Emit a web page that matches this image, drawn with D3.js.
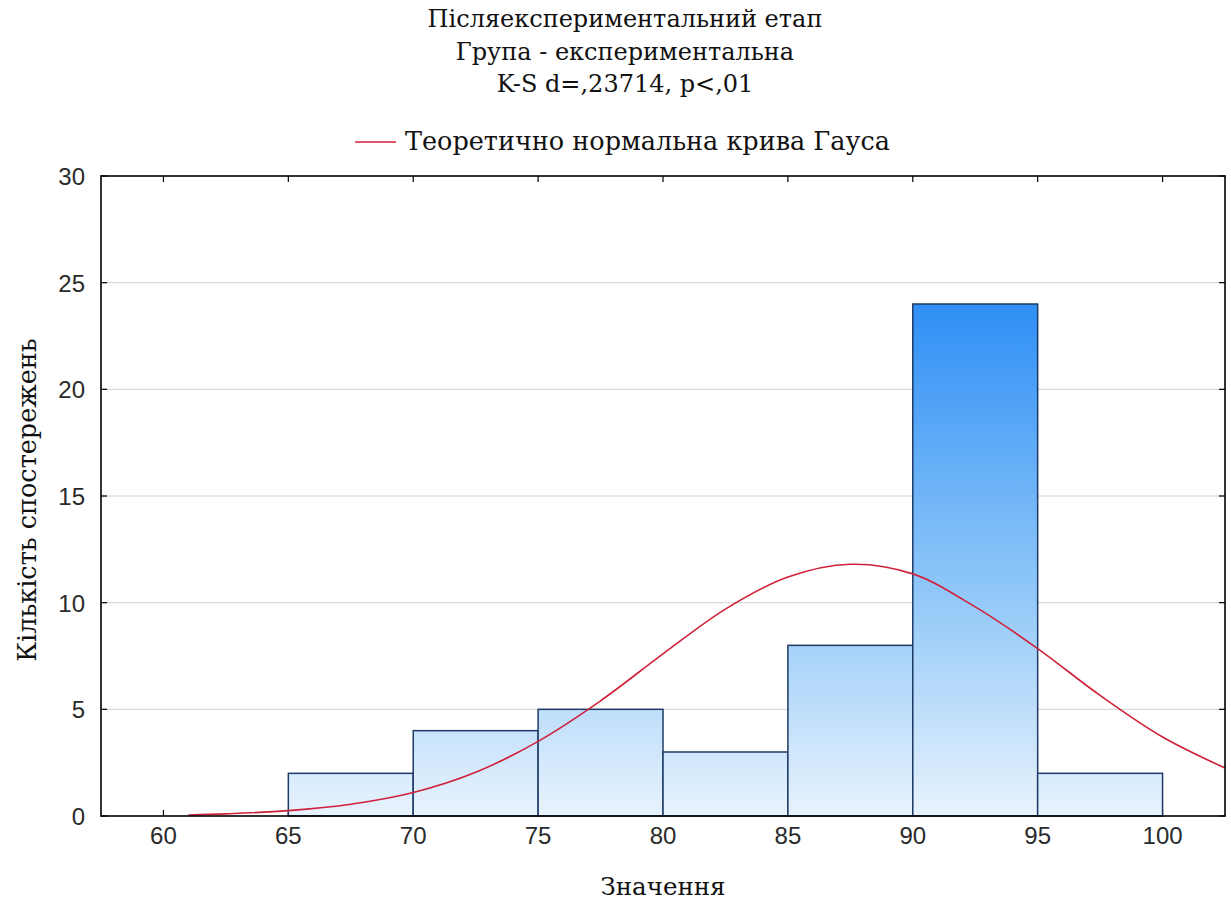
<!DOCTYPE html>
<html>
<head>
<meta charset="utf-8">
<script src="https://cdn.jsdelivr.net/npm/d3@7"></script>
<style>
  html, body { margin: 0; padding: 0; background: #fff; }
  svg { display: block; }
  .serif { font-family: "DejaVu Serif", "Liberation Serif", serif; }
  .sans { font-family: "Liberation Sans", Arial, sans-serif; }
</style>
</head>
<body>
<svg id="chart" width="1231" height="906"></svg>
<script>
// ---- Data ----
const titleLines = ["Післяекспериментальний етап", "Група - експериментальна", "K-S d=,23714, p<,01"];
const legendLabel = "Теоретично нормальна крива Гауса";
const xLabel = "Значення";
const yLabel = "Кількість спостережень";

const binStarts = [65, 70, 75, 80, 85, 90, 95];
const binEnds   = [70, 75, 80, 85, 90, 95, 100];
const binCounts = [2, 4, 5, 3, 8, 24, 2];

const xTicks = [60, 65, 70, 75, 80, 85, 90, 95, 100];
const yTicks = [0, 5, 10, 15, 20, 25, 30];

// Normal curve points
const curveX = [61, 62.5, 65, 67.5, 70, 72.5, 75, 77.5, 80, 82.5, 85, 87.5, 90, 92.5, 95, 97.5, 100, 102.5];
const curveY = [0.05, 0.1, 0.25, 0.55, 1.1, 2.05, 3.5, 5.4, 7.6, 9.7, 11.2, 11.8, 11.35, 9.8, 7.85, 5.65, 3.7, 2.25];

// ---- Layout ----
const svg = d3.select("#chart");
const L = 101, R = 1225, T = 176, B = 816;

const x = d3.scaleLinear().domain([57.5, 102.5]).range([L, R]);
const y = d3.scaleLinear().domain([0, 30]).range([B, T]);

// gradient
const defs = svg.append("defs");
const grad = defs.append("linearGradient")
  .attr("id", "barGrad")
  .attr("gradientUnits", "userSpaceOnUse")
  .attr("x1", 0).attr("x2", 0)
  .attr("y1", y(24)).attr("y2", y(0));
grad.append("stop").attr("offset", "0%").attr("stop-color", "#2f8ff5");
grad.append("stop").attr("offset", "55%").attr("stop-color", "#8ec6f8");
grad.append("stop").attr("offset", "100%").attr("stop-color", "#e8f3fd");

const clip = defs.append("clipPath").attr("id", "plotClip");
clip.append("rect").attr("x", L).attr("y", T).attr("width", R - L).attr("height", B - T);

// gridlines
svg.append("g").selectAll("line").data(yTicks.filter(d => d > 0 && d < 30)).join("line")
  .attr("x1", L).attr("x2", R)
  .attr("y1", d => y(d)).attr("y2", d => y(d))
  .attr("stroke", "#d2d2d2").attr("stroke-width", 1);

// ticks inside (all four sides)
const tickG = svg.append("g").attr("stroke", "#000").attr("stroke-width", 1.2);
xTicks.forEach(v => {
  tickG.append("line").attr("x1", x(v)).attr("x2", x(v)).attr("y1", B).attr("y2", B - 6);
  tickG.append("line").attr("x1", x(v)).attr("x2", x(v)).attr("y1", T).attr("y2", T + 6);
});
yTicks.forEach(v => {
  tickG.append("line").attr("x1", L).attr("x2", L + 6).attr("y1", y(v)).attr("y2", y(v));
  tickG.append("line").attr("x1", R).attr("x2", R - 6).attr("y1", y(v)).attr("y2", y(v));
});

// bars
svg.append("g").selectAll("rect").data(binCounts).join("rect")
  .attr("x", (d, i) => x(binStarts[i]))
  .attr("width", (d, i) => x(binEnds[i]) - x(binStarts[i]))
  .attr("y", d => y(d))
  .attr("height", d => y(0) - y(d))
  .attr("fill", "url(#barGrad)")
  .attr("stroke", "#1d3b66")
  .attr("stroke-width", 1.5);

// curve
const line = d3.line()
  .x((d, i) => x(curveX[i]))
  .y((d, i) => y(curveY[i]))
  .curve(d3.curveCatmullRom.alpha(0.5));
svg.append("path")
  .datum(curveY)
  .attr("clip-path", "url(#plotClip)")
  .attr("d", line)
  .attr("fill", "none")
  .attr("stroke", "#d0213a")
  .attr("stroke-width", 1.6);

// frame
svg.append("rect").attr("x", L).attr("y", T).attr("width", R - L).attr("height", B - T)
  .attr("fill", "none").attr("stroke", "#000").attr("stroke-width", 1.6);

// tick labels
svg.append("g").selectAll("text").data(xTicks).join("text")
  .attr("class", "sans")
  .attr("x", d => x(d)).attr("y", 844)
  .attr("text-anchor", "middle")
  .style("font-size", "24px").attr("fill", "#2a2a2a")
  .text(d => d);

svg.append("g").selectAll("text").data(yTicks).join("text")
  .attr("class", "sans")
  .attr("x", 85).attr("y", d => y(d) + 9)
  .attr("text-anchor", "end")
  .style("font-size", "24px").attr("fill", "#2a2a2a")
  .text(d => d);

// titles
svg.append("g").selectAll("text").data(titleLines).join("text")
  .attr("class", "serif")
  .attr("x", 625).attr("y", (d, i) => 27 + i * 32.5)
  .attr("text-anchor", "middle")
  .style("font-size", "24px").attr("fill", "#111")
  .text(d => d);

// legend
svg.append("line").attr("x1", 355).attr("x2", 396).attr("y1", 142).attr("y2", 142)
  .attr("stroke", "#d0213a").attr("stroke-width", 1.6);
svg.append("text").attr("class", "serif").attr("x", 405).attr("y", 150)
  .style("font-size", "25.5px").attr("fill", "#111")
  .text(legendLabel);

// axis titles
svg.append("text").attr("class", "serif").attr("x", 663).attr("y", 895)
  .attr("text-anchor", "middle")
  .style("font-size", "24.5px").attr("fill", "#111")
  .text(xLabel);
svg.append("text").attr("class", "serif")
  .attr("transform", "translate(36,500) rotate(-90)")
  .attr("text-anchor", "middle")
  .style("font-size", "25.5px").attr("fill", "#111")
  .text(yLabel);
</script>
</body>
</html>
